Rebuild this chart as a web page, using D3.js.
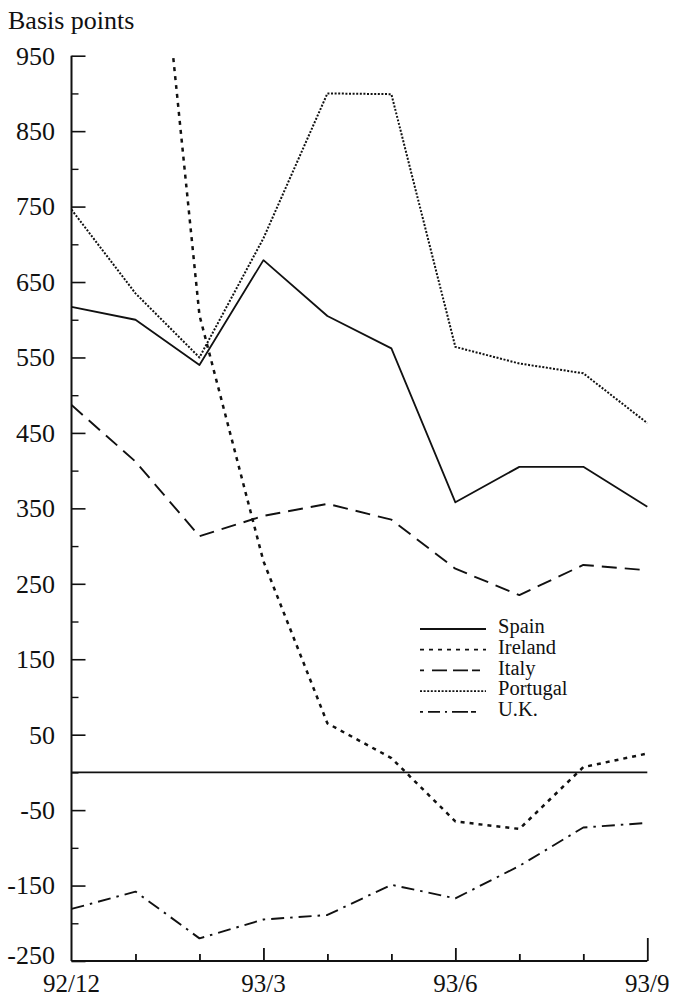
<!DOCTYPE html>
<html>
<head>
<meta charset="utf-8">
<script src="https://cdn.jsdelivr.net/npm/d3@7"></script>
<style>
  html, body { margin: 0; padding: 0; background: #fff; }
  svg { display: block; }
  text { font-family: "Liberation Serif", "DejaVu Serif", serif; fill: #111; }
</style>
</head>
<body>
<div id="chart"></div>
<script>
// ---- data ----
const months = ["92/12", "93/1", "93/2", "93/3", "93/4", "93/5", "93/6", "93/7", "93/8", "93/9"];
const monthLabels = ["92/12", "", "", "93/3", "", "", "93/6", "", "", "93/9"];
const spain    = [617, 600, 540, 679, 605, 562, 358, 405, 405, 352];
const ireland  = [1250, 1440, 606, 280, 65, 19, -65, -75, 7, 25];
const italy    = [487, 412, 313, 340, 356, 335, 270, 235, 275, 268];
const portugal = [746, 635, 550, 708, 900, 899, 564, 542, 529, 463];
const uk       = [-181, -158, -220, -195, -189, -149, -167, -124, -73, -67];
const yTicks = [950, 850, 750, 650, 550, 450, 350, 250, 150, 50, -50, -150, -250];
const yMinorTicks = [900, 800, 700, 600, 500, 400, 300, 200, 100, 0, -100, -200];
const seriesNames = ["Spain", "Ireland", "Italy", "Portugal", "U.K."];

const W = 673, H = 995;
const svg = d3.select("#chart").append("svg").attr("width", W).attr("height", H);

const x = d3.scaleLinear().domain([0, months.length - 1]).range([71.5, 647.3]);
const y = d3.scaleLinear().domain([-250, 950]).range([961, 55.7]);

const styles = {
  "Spain":    { dash: null,         width: 1.8 },
  "Ireland":  { dash: "4,5",        width: 2.5 },
  "Italy":    { dash: "15,8",       width: 1.9 },
  "Portugal": { dash: "2,1.6",      width: 2.0 },
  "U.K.":     { dash: "13,6,2.5,6", width: 1.9 }
};
const series = [
  { name: "Spain", values: spain },
  { name: "Ireland", values: ireland },
  { name: "Italy", values: italy },
  { name: "Portugal", values: portugal },
  { name: "U.K.", values: uk }
];

// clip to plot area
svg.append("defs").append("clipPath").attr("id", "plot")
  .append("rect")
  .attr("x", x(0)).attr("y", y(950))
  .attr("width", x(9) - x(0) + 2).attr("height", y(-250) - y(950));

// title
svg.append("text").attr("x", 8).attr("y", 29)
  .attr("font-size", 26).text("Basis points");

// y axis
const yAxis = d3.axisRight(y).tickValues(yTicks).tickSize(14).tickFormat("");
const gy = svg.append("g").attr("transform", `translate(${x(0)},0)`).call(yAxis);
gy.select(".domain").attr("stroke", "#111").attr("stroke-width", 2).attr("d", `M0,${y(950)}V${y(-250)}`);
gy.selectAll(".tick line").attr("stroke", "#111").attr("stroke-width", 1.6);
const yMinor = d3.axisRight(y).tickValues(yMinorTicks).tickSize(7).tickFormat("");
const gym = svg.append("g").attr("transform", `translate(${x(0)},0)`).call(yMinor);
gym.select(".domain").remove();
gym.selectAll(".tick line").attr("stroke", "#111").attr("stroke-width", 1.4);
// y labels
svg.append("g").selectAll("text").data(yTicks).join("text")
  .attr("x", 55).attr("y", d => y(d) - (d === -250 ? 6 : 0)).attr("dy", "0.34em")
  .attr("text-anchor", "end").attr("font-size", 26)
  .text(d => d < 0 ? "-" + Math.abs(d) : d);

// x axis
const xTickIdx = d3.range(months.length);
const xAxis = d3.axisTop(x).tickValues(xTickIdx)
  .tickSize(0).tickFormat("");
const gx = svg.append("g").attr("transform", `translate(0,${y(-250)})`).call(xAxis);
gx.select(".domain").attr("stroke", "#111").attr("stroke-width", 2).attr("d", `M${x(0)},0H${x(9)}`);
gx.selectAll(".tick line")
  .attr("stroke", "#111").attr("stroke-width", 1.8)
  .attr("y2", d => d === 9 ? -23 : (d % 3 === 0 ? -13 : -7))
  .filter(d => d === 0).remove();
svg.append("g").selectAll("text").data(xTickIdx.filter(i => monthLabels[i] !== "")).join("text")
  .attr("x", i => x(i)).attr("y", 991.5)
  .attr("text-anchor", "middle").attr("font-size", 25)
  .text(i => monthLabels[i]);

// zero line
svg.append("line")
  .attr("x1", x(0)).attr("x2", x(9)).attr("y1", y(0)).attr("y2", y(0))
  .attr("stroke", "#111").attr("stroke-width", 1.7);

// series lines
const line = d3.line().x((d, i) => x(i)).y(d => y(d));
svg.append("g").attr("clip-path", "url(#plot)")
  .selectAll("path").data(series).join("path")
  .attr("d", d => line(d.values))
  .attr("fill", "none").attr("stroke", "#111")
  .attr("stroke-width", d => styles[d.name].width)
  .attr("stroke-dasharray", d => styles[d.name].dash)
  .attr("stroke-linejoin", "round");

// legend
const lg = svg.append("g").attr("transform", "translate(420,629)");
const rows = lg.selectAll("g").data(seriesNames).join("g")
  .attr("transform", (d, i) => `translate(0,${i * 20.7})`);
rows.append("line").attr("x1", 0).attr("x2", 66).attr("y1", 0).attr("y2", 0)
  .attr("stroke", "#111")
  .attr("stroke-width", d => Math.min(styles[d].width, 1.8))
  .attr("stroke-dasharray", d => d === "Italy" ? "4,8,15,6,15" : d === "U.K." ? "3,5,12,5,2,5,16" : styles[d].dash);
rows.append("text").attr("x", 78).attr("y", 0).attr("dy", "0.2em")
  .attr("font-size", 20.5).text(d => d);
</script>
</body>
</html>
